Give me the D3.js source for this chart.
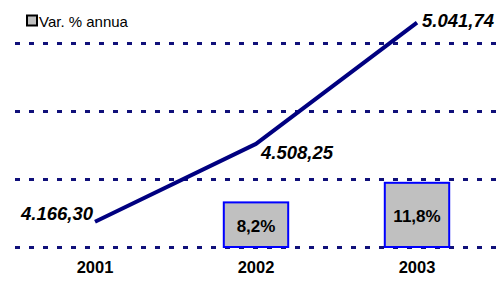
<!DOCTYPE html>
<html>
<head>
<meta charset="utf-8">
<script src="https://cdn.jsdelivr.net/npm/d3@7"></script>
<style>
  body { margin: 0; background: #fff; }
  svg { display: block; font-family: Arial, "Liberation Sans", sans-serif; }
</style>
</head>
<body>
<div id="main"></div>
<script>
// data
var years = ["2001", "2002", "2003"];
var totals = [4166.30, 4508.25, 5041.74];
var varPct = [null, 8.2, 11.8];
var gridTicks = [0, 12.5, 25, 37.5];
var legendLabel = "Var. % annua";

var width = 499, height = 285;

var it = d3.formatLocale({ decimal: ",", thousands: ".", grouping: [3], currency: ["", "€"] });
var fmtTot = it.format(",.2f");
var fmtPct = function(v) { return it.format(".1f")(v) + "%"; };

var svg = d3.select("#main").append("svg")
  .attr("width", width)
  .attr("height", height);

var x = d3.scaleBand().domain(years).range([14.5, 497.5]).padding(0);
var yBar = d3.scaleLinear().domain([0, 37.5]).range([247, 43]);
var yLine = d3.scaleLinear().domain([4055, 4952]).range([247, 43]);

// gridlines
svg.append("g").selectAll("line")
  .data(gridTicks)
  .enter().append("line")
  .attr("x1", 15)
  .attr("x2", width)
  .attr("y1", function(d) { return Math.round(yBar(d)) + 0.5; })
  .attr("y2", function(d) { return Math.round(yBar(d)) + 0.5; })
  .attr("stroke", "#10107a")
  .attr("stroke-width", 3)
  .attr("stroke-dasharray", "5,9");

// bars
var bw = x.bandwidth() * 0.4;
var barData = years.map(function(y, i) { return { year: y, v: varPct[i] }; })
  .filter(function(d) { return d.v != null; });

svg.append("g").selectAll("rect")
  .data(barData)
  .enter().append("rect")
  .attr("x", function(d) { return x(d.year) + (x.bandwidth() - bw) / 2; })
  .attr("y", function(d) { return yBar(d.v); })
  .attr("width", bw)
  .attr("height", function(d) { return yBar(0) - yBar(d.v); })
  .attr("fill", "#c0c0c0")
  .attr("stroke", "#0000ff")
  .attr("stroke-width", 2);

svg.append("g").selectAll("text")
  .data(barData)
  .enter().append("text")
  .attr("x", function(d) { return x(d.year) + x.bandwidth() / 2; })
  .attr("y", function(d) { return (yBar(d.v) + yBar(0)) / 2 + 7; })
  .attr("text-anchor", "middle")
  .attr("font-size", 17)
  .attr("font-weight", "bold")
  .attr("fill", "#000")
  .text(function(d) { return fmtPct(d.v); });

// line
var pts = years.map(function(y, i) { return [x(y) + x.bandwidth() / 2, yLine(totals[i])]; });
svg.append("path")
  .attr("d", d3.line()(pts))
  .attr("fill", "none")
  .attr("stroke", "#000080")
  .attr("stroke-width", 4)
  .attr("stroke-linejoin", "round");

// label placement relative to points
var labDx = [-2, 5, 5], labDy = [-2, 15, 4], labAnchor = ["end", "start", "start"];
svg.append("g").selectAll("text")
  .data(totals)
  .enter().append("text")
  .attr("x", function(d, i) { return pts[i][0] + labDx[i]; })
  .attr("y", function(d, i) { return pts[i][1] + labDy[i]; })
  .attr("text-anchor", function(d, i) { return labAnchor[i]; })
  .attr("font-size", 18.5)
  .attr("font-weight", "bold")
  .attr("font-style", "italic")
  .text(function(d) { return fmtTot(d); });

// x labels
svg.append("g").selectAll("text")
  .data(years)
  .enter().append("text")
  .attr("x", function(d) { return x(d) + x.bandwidth() / 2; })
  .attr("y", 273)
  .attr("text-anchor", "middle")
  .attr("font-size", 16.5)
  .attr("font-weight", "bold")
  .text(function(d) { return d; });

// legend
svg.append("rect")
  .attr("x", 27).attr("y", 15.5)
  .attr("width", 10).attr("height", 10)
  .attr("fill", "#c0c0c0")
  .attr("stroke", "#000")
  .attr("stroke-width", 2);
svg.append("text")
  .attr("x", 39)
  .attr("y", 27)
  .attr("font-size", 15)
  .text(legendLabel);
</script>
</body>
</html>
